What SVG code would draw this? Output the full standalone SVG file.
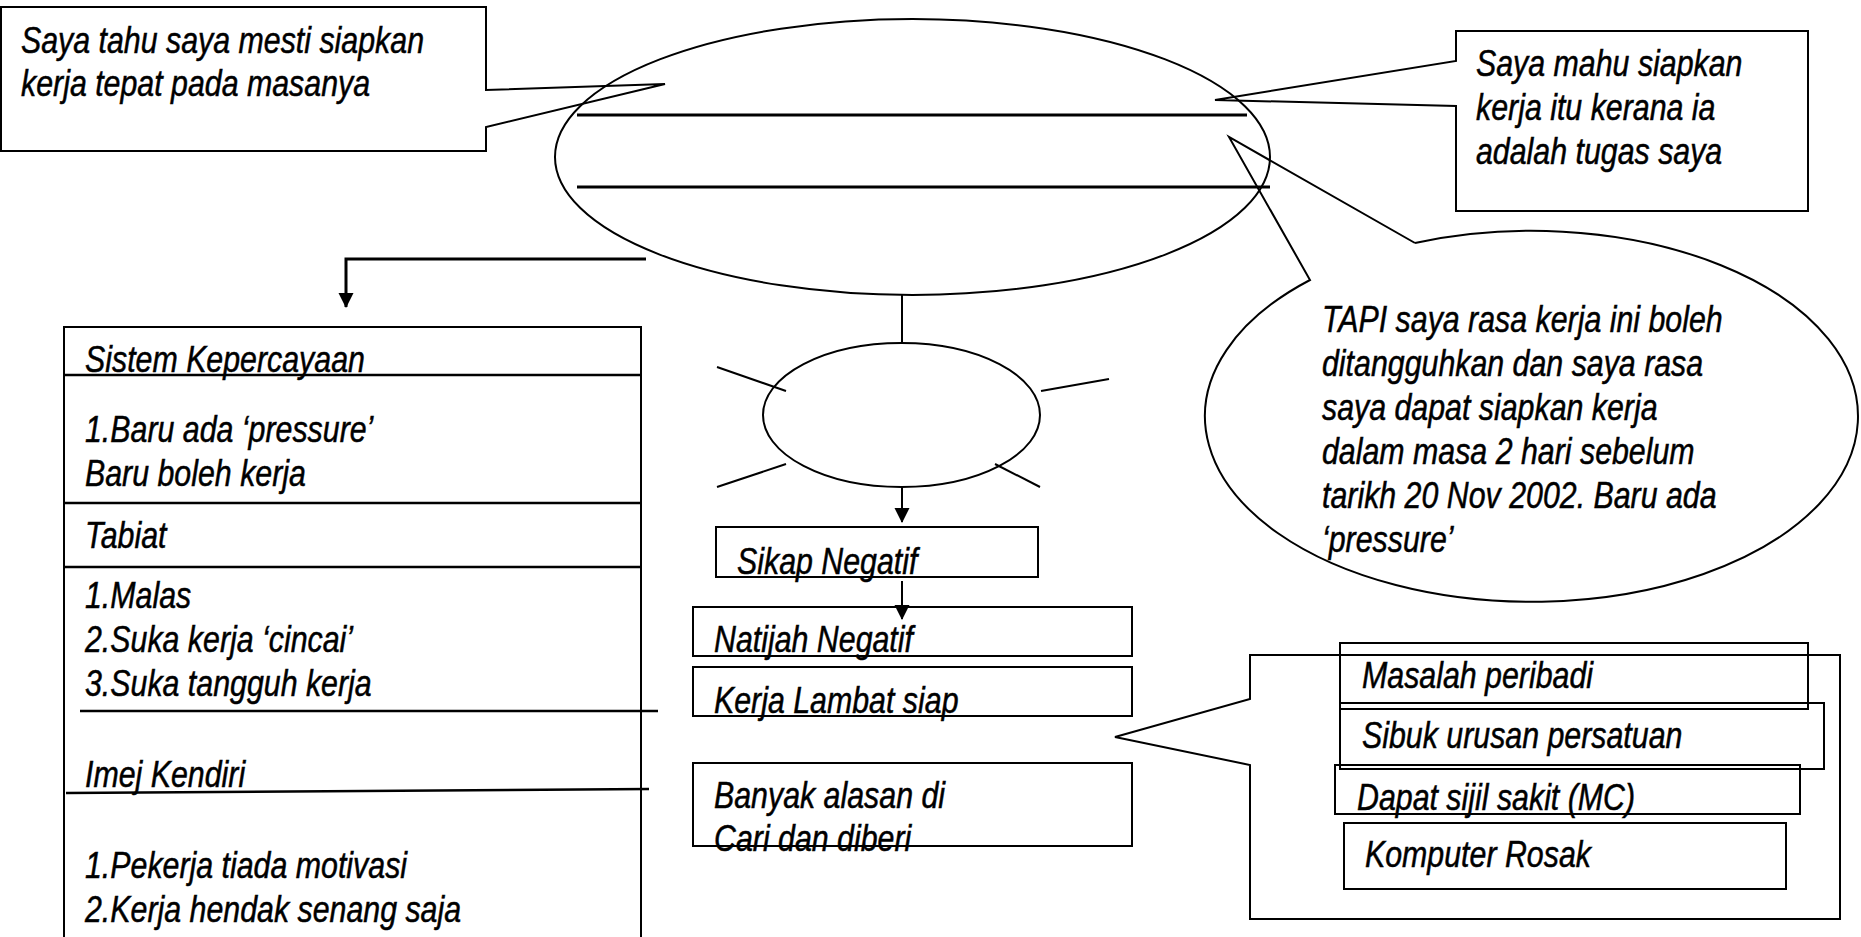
<svg xmlns="http://www.w3.org/2000/svg" width="1861" height="937" viewBox="0 0 1861 937">
<style>
.s{fill:none;stroke:#000;stroke-width:2}
.k{fill:none;stroke:#000;stroke-width:3}
.d{fill:none;stroke:#000;stroke-width:2.5}
.t{font-family:"Liberation Sans",Arial,sans-serif;font-style:italic;font-size:37px;fill:#000;stroke:#000;stroke-width:0.5}
</style>
<defs>
<marker id="ah" viewBox="0 -8 15 16" refX="14" refY="0" markerWidth="15" markerHeight="16" markerUnits="userSpaceOnUse" orient="auto">
<path d="M0,-7.5 L15,0 L0,7.5 Z" fill="#000"/>
</marker>
</defs>
<rect width="1861" height="937" fill="#fff"/>

<g id="main-ellipse">
<ellipse class="s" cx="912.5" cy="157" rx="357.5" ry="138"/>
<line class="k" x1="577" y1="115" x2="1247" y2="115"/>
<line class="k" x1="577" y1="187" x2="1270" y2="187"/>
</g>

<g id="callout-left">
<path class="s" d="M1,7 H486 V90 L665,84 L486,127 V151 H1 Z"/>
<text class="t" transform="matrix(.82 0 0 1 21 0)"><tspan x="0" y="53">Saya tahu saya mesti siapkan</tspan><tspan x="0" y="96">kerja tepat pada masanya</tspan></text>
</g>

<g id="callout-right">
<path class="s" d="M1456,31 H1808 V211 H1456 V106 L1215,100 L1456,61 Z"/>
<text class="t" transform="matrix(.82 0 0 1 1476 0)"><tspan x="0" y="76">Saya mahu siapkan</tspan><tspan x="0" y="120">kerja itu kerana ia</tspan><tspan x="0" y="164">adalah tugas saya</tspan></text>
</g>

<g id="bubble">
<path class="s" d="M1415,243 L1229,137 L1310,280 A326.5 185.5 0 1 0 1415,243"/>
<text class="t" transform="matrix(.82 0 0 1 1322 0)"><tspan x="0" y="332">TAPI saya rasa kerja ini boleh</tspan><tspan x="0" y="376">ditangguhkan dan saya rasa</tspan><tspan x="0" y="420">saya dapat siapkan kerja</tspan><tspan x="0" y="464">dalam masa 2 hari sebelum</tspan><tspan x="0" y="508">tarikh 20 Nov 2002. Baru ada</tspan><tspan x="0" y="552">‘pressure’</tspan></text>
</g>

<g id="table-left">
<path class="s" d="M64,937 V327 H641 V937"/>
<line class="d" x1="64" y1="375" x2="641" y2="375"/>
<line class="d" x1="64" y1="503" x2="641" y2="503"/>
<line class="d" x1="64" y1="567" x2="641" y2="567"/>
<line class="d" x1="80" y1="711" x2="658" y2="711"/>
<line class="d" x1="66" y1="793" x2="649" y2="789"/>
<text class="t" transform="matrix(.82 0 0 1 85 0)"><tspan x="0" y="372">Sistem Kepercayaan</tspan><tspan x="0" y="442">1.Baru ada ‘pressure’</tspan><tspan x="0" y="486">Baru boleh kerja</tspan><tspan x="0" y="548">Tabiat</tspan><tspan x="0" y="608">1.Malas</tspan><tspan x="0" y="652">2.Suka kerja ‘cincai’</tspan><tspan x="0" y="696">3.Suka tangguh kerja</tspan><tspan x="0" y="787">Imej Kendiri</tspan><tspan x="0" y="878">1.Pekerja tiada motivasi</tspan><tspan x="0" y="922">2.Kerja hendak senang saja</tspan></text>
</g>

<g id="attitude-ellipse">
<ellipse class="s" cx="901.5" cy="415" rx="138.5" ry="72"/>
<line class="s" x1="717" y1="367" x2="786" y2="391"/>
<line class="s" x1="1041" y1="391" x2="1109" y2="379"/>
<line class="s" x1="717" y1="487" x2="786" y2="464"/>
<line class="s" x1="995" y1="464" x2="1040" y2="487"/>
</g>

<g id="sikap-negatif">
<rect class="s" x="716" y="527" width="322" height="50"/>
<text class="t" transform="matrix(.82 0 0 1 737 0)" y="574">Sikap Negatif</text>
</g>

<g id="natijah-negatif">
<rect class="s" x="693" y="607" width="439" height="49"/>
<text class="t" transform="matrix(.82 0 0 1 714 0)" y="652">Natijah Negatif</text>
</g>

<g id="kerja-lambat">
<rect class="s" x="693" y="667" width="439" height="49"/>
<text class="t" transform="matrix(.82 0 0 1 714 0)" y="713">Kerja Lambat siap</text>
</g>

<g id="banyak-alasan">
<rect class="s" x="693" y="763" width="439" height="83"/>
<text class="t" transform="matrix(.82 0 0 1 714 0)"><tspan x="0" y="808">Banyak alasan di</tspan><tspan x="0" y="851">Cari dan diberi</tspan></text>
</g>

<g id="reasons">
<path class="s" d="M1250,655 H1840 V919 H1250 V765 L1115,737 L1250,699 Z"/>
<rect class="s" x="1340" y="643" width="468" height="66"/>
<rect class="s" x="1340" y="703" width="484" height="66"/>
<rect class="s" x="1335" y="765" width="465" height="49"/>
<rect class="s" x="1344" y="823" width="442" height="66"/>
<text class="t" transform="matrix(.82 0 0 1 1362 0)" y="688">Masalah peribadi</text>
<text class="t" transform="matrix(.82 0 0 1 1362 0)" y="748">Sibuk urusan persatuan</text>
<text class="t" transform="matrix(.82 0 0 1 1357 0)" y="810">Dapat sijil sakit (MC)</text>
<text class="t" transform="matrix(.82 0 0 1 1365 0)" y="867">Komputer Rosak</text>
</g>

<g id="connectors">
<path class="k" d="M646,259 H346 V307" marker-end="url(#ah)"/>
<line class="s" x1="902" y1="295" x2="902" y2="343"/>
<line class="s" x1="902" y1="487" x2="902" y2="522" marker-end="url(#ah)"/>
<line class="s" x1="902" y1="581" x2="902" y2="619" marker-end="url(#ah)"/>
</g>
</svg>
